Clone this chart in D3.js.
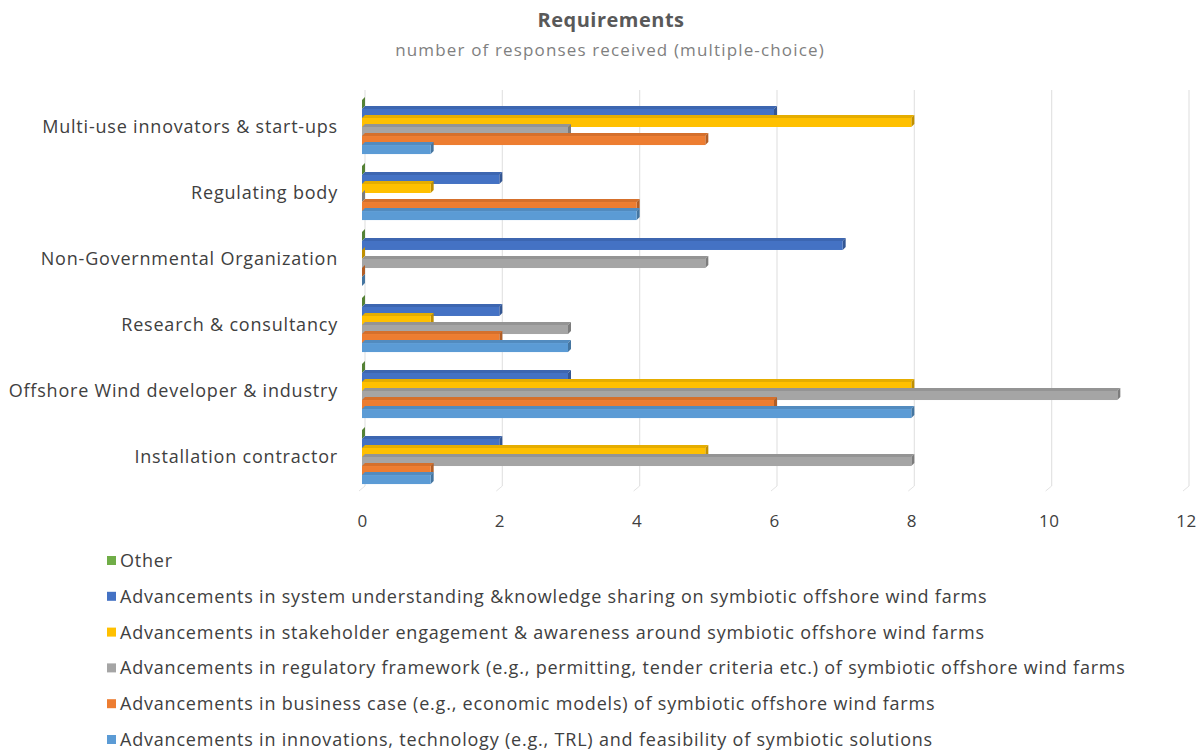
<!DOCTYPE html>
<html>
<head>
<meta charset="utf-8">
<script src="https://cdn.jsdelivr.net/npm/d3@7"></script>
<style>
  body { margin: 0; background: #fff; font-family: "Open Sans", "Noto Sans", sans-serif; }
  svg text { fill: #404040; }
</style>
</head>
<body>
<div id="chart"></div>
<script>
// categories top to bottom
const categories = [
    "Multi-use innovators & start-ups",
    "Regulating body",
    "Non-Governmental Organization",
    "Research & consultancy",
    "Offshore Wind developer & industry",
    "Installation contractor"
];

// series names, in order inside each group (top to bottom)
const seriesNames = [
    "Other",
    "Advancements in system understanding &knowledge sharing on symbiotic offshore wind farms",
    "Advancements in stakeholder engagement & awareness around symbiotic offshore wind farms",
    "Advancements in regulatory framework (e.g., permitting, tender criteria etc.) of symbiotic offshore wind farms",
    "Advancements in business case (e.g., economic models) of symbiotic offshore wind farms",
    "Advancements in innovations, technology (e.g., TRL) and feasibility of symbiotic solutions"
];

// values per series, one per category
const other        = [0, 0, 0, 0, 0, 0];
const systemKnow   = [6, 2, 7, 2, 3, 2];
const stakeholder  = [8, 1, 0, 1, 8, 5];
const regulatory   = [3, 0, 5, 3, 11, 8];
const businessCase = [5, 4, 0, 2, 6, 1];
const innovations  = [1, 4, 0, 3, 8, 1];

const xTicks = [0, 2, 4, 6, 8, 10, 12];

const seriesValues = [other, systemKnow, stakeholder, regulatory, businessCase, innovations];
const colors = ['#70AD47', '#4472C4', '#FFC000', '#A5A5A5', '#ED7D31', '#5B9BD5'];

const width = 1201, height = 754;
const margin = {top: 94, left: 362, right: 15, bottom: 264};

const svg = d3.select("#chart").append("svg")
    .attr("width", width)
    .attr("height", height);

// title
svg.append("text")
    .attr("x", 611).attr("y", 27)
    .attr("text-anchor", "middle")
    .style("font-size", "20px").style("font-weight", "bold")
    .style("letter-spacing", "0.5px")
    .style("fill", "#595959")
    .text("Requirements");
svg.append("text")
    .attr("x", 610).attr("y", 56)
    .attr("text-anchor", "middle")
    .style("font-size", "17px")
    .style("letter-spacing", "1.15px")
    .style("fill", "#7f7f7f")
    .text("number of responses received (multiple-choice)");

const x = d3.scaleLinear()
    .domain([0, 12])
    .range([margin.left, 1186]);

const y = d3.scaleBand()
    .domain(categories)
    .range([margin.top, height - margin.bottom])
    .paddingInner(0.18)
    .paddingOuter(0.09);

const ySub = d3.scaleBand()
    .domain(d3.range(seriesNames.length))
    .range([0, y.bandwidth()]);

const depth = 3;

// grid lines (back wall, shifted by depth)
svg.append("g")
    .selectAll("line")
    .data(xTicks)
    .enter().append("line")
    .attr("x1", d => x(d) + depth)
    .attr("x2", d => x(d) + depth)
    .attr("y1", margin.top - 4)
    .attr("y2", height - margin.bottom - 4)
    .attr("stroke", "#e3e3e3")
    .attr("stroke-width", 1.2);

// floor ticks
svg.append("g")
    .selectAll("line")
    .data(xTicks)
    .enter().append("line")
    .attr("x1", d => x(d) - 3)
    .attr("x2", d => x(d) + depth)
    .attr("y1", height - margin.bottom + 1)
    .attr("y2", height - margin.bottom - 4)
    .attr("stroke", "#e3e3e3");

// x axis
const xAxis = d3.axisBottom(x).tickValues(xTicks).tickSize(0).tickPadding(0);
const gx = svg.append("g")
    .attr("transform", `translate(0, ${height - margin.bottom + 25})`)
    .call(xAxis);
gx.select(".domain").remove();
gx.selectAll("text")
    .style("font-size", "17px")
    .style("font-family", "'Open Sans', sans-serif")
    .style("letter-spacing", "0.5px")
    .style("fill", "#404040");

// category labels
svg.append("g")
    .selectAll("text")
    .data(categories)
    .enter().append("text")
    .attr("x", margin.left - 24)
    .attr("y", d => y(d) + y.bandwidth() / 2 + 6)
    .attr("text-anchor", "end")
    .style("font-size", "18px")
    .style("letter-spacing", "0.8px")
    .text(d => d);

// bars with a small 3D top and end face
const groups = svg.append("g")
    .selectAll("g")
    .data(categories)
    .enter().append("g")
    .attr("transform", d => `translate(0, ${y(d)})`);

groups.each(function(cat, ci) {
    let g = d3.select(this);
    seriesValues.forEach((vals, si) => {
        let v = vals[ci];
        let x0 = x(0), x1 = x(v);
        let top = ySub(si), h = ySub.bandwidth();
        let c = d3.color(colors[si]);
        // top face
        g.append("path")
            .attr("d", `M${x0},${top} L${x0 + depth},${top - depth} L${x1 + depth},${top - depth} L${x1},${top} Z`)
            .attr("fill", c.darker(0.3));
        // end face
        g.append("path")
            .attr("d", `M${x1},${top} L${x1 + depth},${top - depth} L${x1 + depth},${top + h - depth} L${x1},${top + h} Z`)
            .attr("fill", c.darker(0.8));
        // front face
        g.append("rect")
            .attr("x", x0)
            .attr("y", top)
            .attr("width", x1 - x0)
            .attr("height", h)
            .attr("fill", c);
    });
});

// legend
const legend = svg.append("g")
    .attr("transform", "translate(107, 561)");

const legendRows = legend.selectAll("g")
    .data(seriesNames)
    .enter().append("g")
    .attr("transform", (d, i) => `translate(0, ${i * 35.8})`);

legendRows.append("rect")
    .attr("x", 0).attr("y", -5)
    .attr("width", 9).attr("height", 9)
    .attr("fill", (d, i) => colors[i]);

legendRows.append("text")
    .attr("x", 13).attr("y", 6)
    .style("font-size", "18px")
    .style("letter-spacing", "0.8px")
    .text(d => d);
</script>
</body>
</html>
